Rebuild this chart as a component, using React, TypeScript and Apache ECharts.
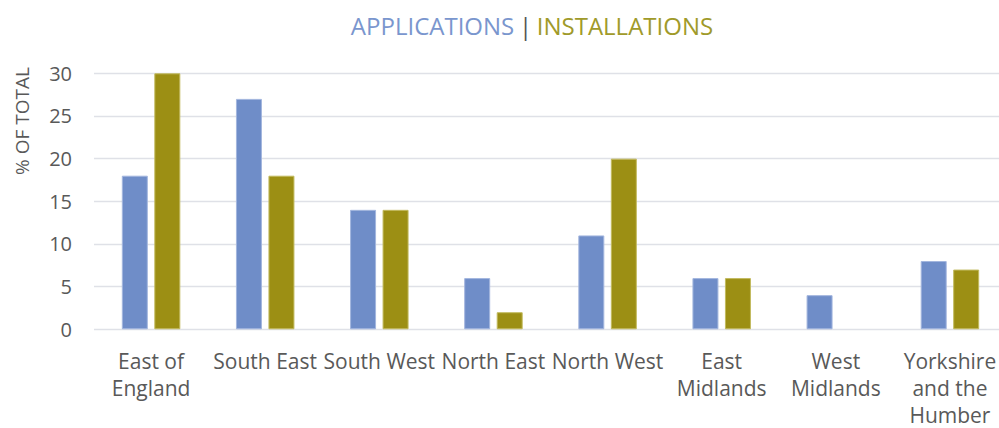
import React, { useEffect, useRef } from "react";
import * as echarts from "echarts";

const categories = [
  "East of\nEngland",
  "South East",
  "South West",
  "North East",
  "North West",
  "East\nMidlands",
  "West\nMidlands",
  "Yorkshire\nand the\nHumber",
];
const applications = [18, 27, 14, 6, 11, 6, 4, 8];
const installations = [30, 18, 14, 2, 20, 6, 0, 7];
const yTicks = { min: 0, max: 30, interval: 5 };

const FONT = "'Open Sans', sans-serif";
const BLUE = "#6F8DC8";
const OLIVE = "#9C8F14";

const toData = (arr: number[], border: string) =>
  arr.map((v) =>
    v === 0 ? { value: v, itemStyle: { borderWidth: 0 } } : { value: v, itemStyle: { borderColor: border, borderWidth: 1 } }
  );

export default function App() {
  const ref = useRef<HTMLDivElement>(null);
  useEffect(() => {
    if (!ref.current) return;
    const chart = echarts.init(ref.current, null, { renderer: "svg" });
    chart.setOption({
      animation: false,
      textStyle: { fontFamily: FONT },
      title: {
        left: 527,
        textAlign: "center",
        top: 8,
        text: "{a|APPLICATIONS} {s||} {b|INSTALLATIONS}",
        textStyle: {
          fontWeight: "normal",
          rich: {
            a: { color: "#7A96CE", fontSize: 24, fontWeight: "normal", fontFamily: FONT },
            s: { color: "#555555", fontSize: 24, fontWeight: "normal", fontFamily: FONT },
            b: { color: "#A09A2A", fontSize: 24, fontWeight: "normal", fontFamily: FONT },
          },
        },
      },
      graphic: [
        {
          type: "text",
          x: 22,
          y: 121,
          rotation: Math.PI / 2,
          style: {
            text: "% OF TOTAL",
            fill: "#595959",
            font: `19px ${FONT}`,
            align: "center",
            verticalAlign: "middle",
          },
        },
      ],
      grid: { left: 94, width: 913, top: 73.3, bottom: 98.7, outerBoundsMode: "none", containLabel: false },
      xAxis: {
        type: "category",
        data: categories,
        axisLine: { show: false },
        axisTick: { show: false },
        axisLabel: {
          color: "#595959",
          fontSize: 21,
          lineHeight: 27,
          margin: 18,
          interval: 0,
          fontFamily: FONT,
        },
      },
      yAxis: {
        type: "value",
        min: yTicks.min,
        max: yTicks.max,
        interval: yTicks.interval,
        axisLabel: { color: "#595959", fontSize: 20, margin: 22, fontFamily: FONT },
        splitLine: { lineStyle: { color: "#DFE1E7", width: 1.3 } },
        axisLine: { show: false },
        axisTick: { show: false },
      },
      series: [
        {
          name: "Applications",
          type: "bar",
          data: toData(applications, "#A3B6DE"),
          barWidth: 26,
          barGap: "25%",
          itemStyle: { color: BLUE },
        },
        {
          name: "Installations",
          type: "bar",
          data: toData(installations, "#C2BA5E"),
          barWidth: 26,
          itemStyle: { color: OLIVE },
        },
      ],
    });
    return () => chart.dispose();
  }, []);
  return (
    <div
      ref={ref}
      style={{ position: "fixed", left: 0, top: 0, width: 999, height: 428, background: "#fff" }}
    />
  );
}
